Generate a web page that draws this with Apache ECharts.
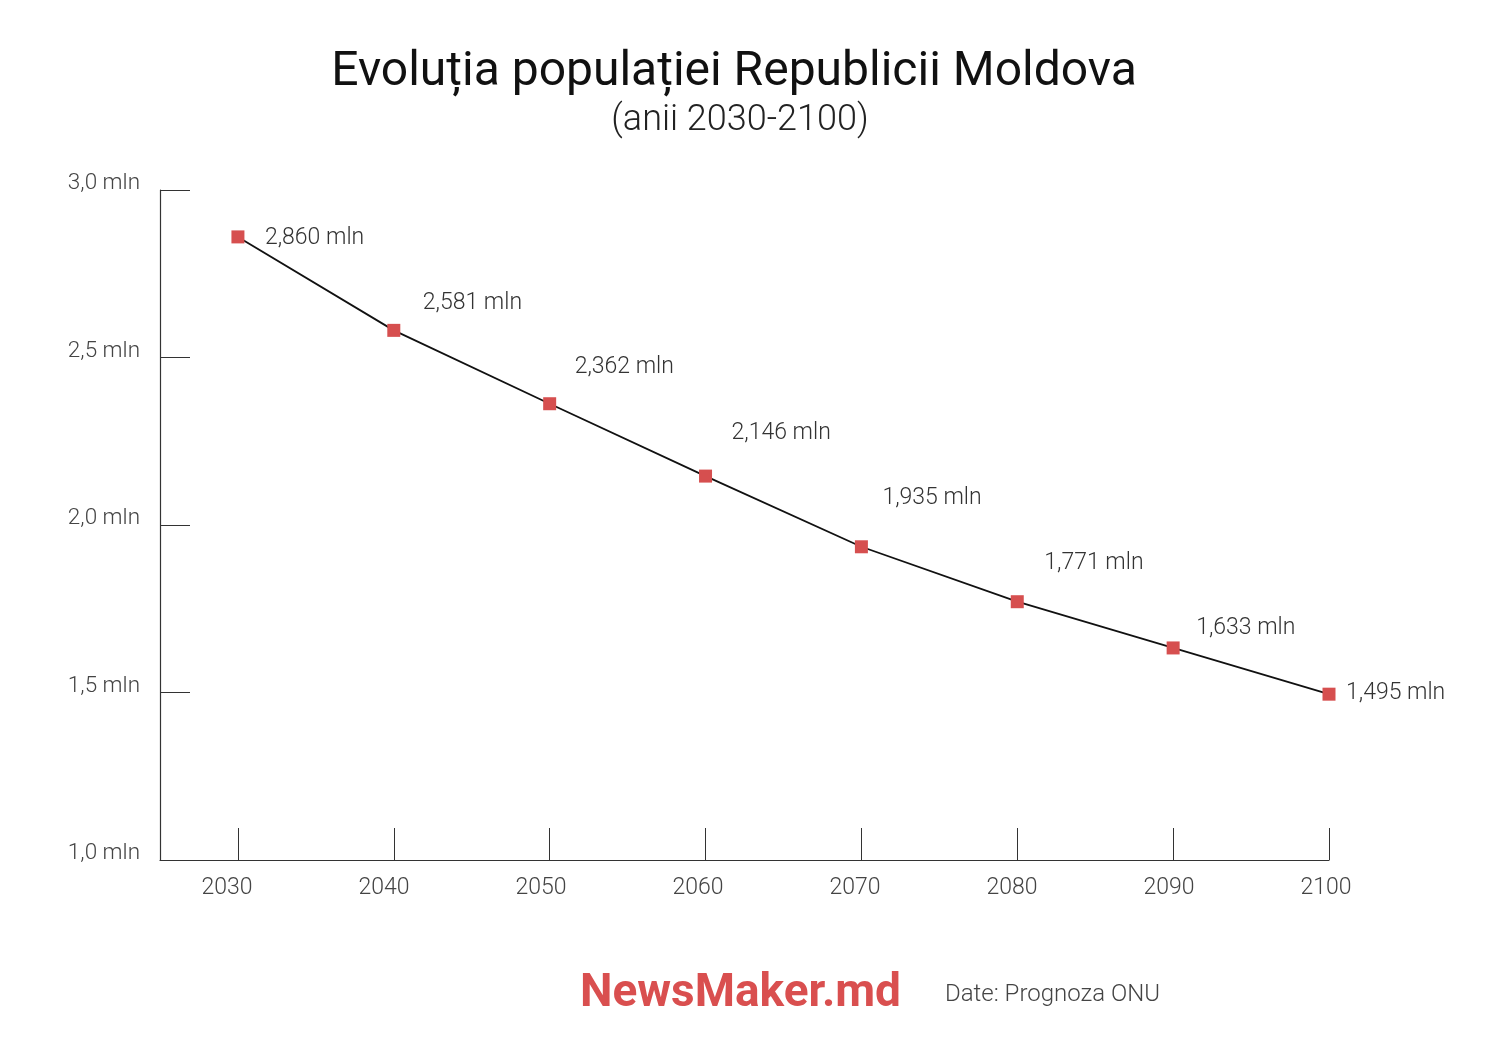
<!DOCTYPE html>
<html>
<head>
<meta charset="utf-8">
<style>html,body{margin:0;padding:0;background:#fff;}#c{width:1508px;height:1040px;}</style>
<script src="https://cdn.jsdelivr.net/npm/echarts@6/dist/echarts.min.js"></script>
</head>
<body>
<div id="c"></div>
<script>
var years = [2030, 2040, 2050, 2060, 2070, 2080, 2090, 2100];
var population = [2.860, 2.581, 2.362, 2.146, 1.935, 1.771, 1.633, 1.495];
var yTicks = [1.0, 1.5, 2.0, 2.5, 3.0];
var titleText = 'Evoluția populației Republicii Moldova';
var subtitleText = '(anii 2030-2100)';
var sourceText = 'Date: Prognoza ONU';
var brandText = 'NewsMaker.md';

// label placement (style, not data)
var labelOffsets = [[27, 1], [29, -27], [25, -36], [26, -43], [21, -49], [27, -38], [23, -20], [17, -1]];

var FONT = 'Roboto, "Noto Sans", sans-serif';
var fmt = function (v) { return v.toFixed(3).replace('.', ',') + ' mln'; };

var chart = echarts.init(document.getElementById('c'), null, {renderer: 'canvas'});
var option = {
  backgroundColor: '#ffffff',
  animation: false,
  grid: {left: 160, right: 179, top: 190, bottom: 180},
  xAxis: [{
    type: 'value',
    min: 2025, max: 2100,
    splitLine: {show: false},
    axisLine: {show: true, lineStyle: {color: '#333', width: 1.2}},
    axisTick: {show: true, inside: true, length: 32, customValues: years, lineStyle: {color: '#333', width: 1}},
    axisLabel: {show: false}
  }, {
    // label track (labels in the reference sit on a slightly wider spacing)
    type: 'value',
    position: 'bottom',
    min: 2025.73, max: 2100.19,
    splitLine: {show: false},
    axisLine: {show: false},
    axisTick: {show: false},
    axisLabel: {customValues: years, color: '#444', fontFamily: FONT, fontSize: 23, fontWeight: 300, margin: 17,
      formatter: function (v) { return String(v); }}
  }],
  yAxis: {
    type: 'value',
    min: 1, max: 3, interval: 0.5,
    splitLine: {show: false},
    axisLine: {show: true, lineStyle: {color: '#333', width: 1.2}},
    axisTick: {show: true, inside: true, length: 30, lineStyle: {color: '#333', width: 1}},
    axisLabel: {color: '#444', fontFamily: FONT, fontSize: 22.5, fontWeight: 300, margin: 20, verticalAlign: 'bottom', lineHeight: 13,
      formatter: function (v) { return v.toFixed(1).replace('.', ',') + ' mln'; }}
  },
  series: [{
    type: 'line',
    xAxisIndex: 0,
    data: years.map(function (y, i) {
      return {
        value: [y, population[i]],
        label: {offset: labelOffsets[i]}
      };
    }),
    symbol: 'rect',
    symbolSize: 13,
    itemStyle: {color: '#d64f4f'},
    lineStyle: {color: '#111', width: 1.8},
    z: 3,
    label: {
      show: true,
      position: 'inside',
      align: 'left',
      verticalAlign: 'middle',
      color: '#333',
      fontFamily: FONT,
      fontSize: 23,
      fontWeight: 300,
      formatter: function (p) { return fmt(p.value[1]); }
    }
  }],
  graphic: [
    {type: 'text', x: 734, y: 73, style: {text: titleText, align: 'center', verticalAlign: 'middle', fill: '#111', font: '400 48px ' + FONT}},
    {type: 'text', x: 740, y: 121, style: {text: subtitleText, align: 'center', verticalAlign: 'middle', fill: '#222', font: '300 36px ' + FONT}},
    {type: 'text', x: 580, y: 994, style: {text: brandText, align: 'left', verticalAlign: 'middle', fill: '#d94f4f', font: '700 46px ' + FONT}},
    {type: 'text', x: 945, y: 995, style: {text: sourceText, align: 'left', verticalAlign: 'middle', fill: '#444', font: '300 24px ' + FONT}}
  ]
};
chart.setOption(option);
</script>
</body>
</html>
